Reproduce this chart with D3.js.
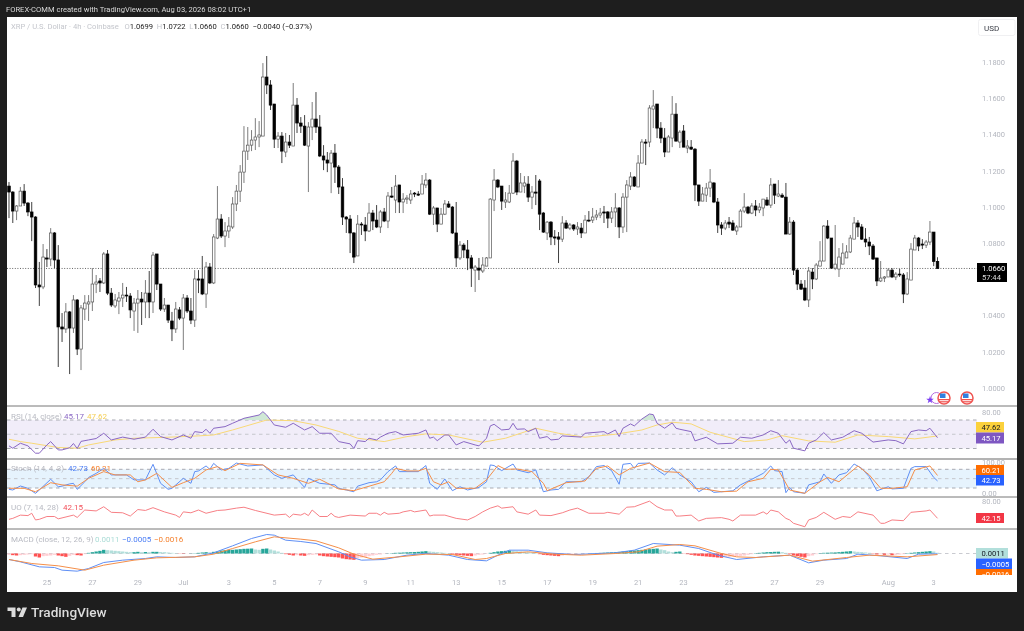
<!DOCTYPE html>
<html>
<head>
<meta charset="utf-8">
<script src="https://d3js.org/d3.v7.min.js"></script>
<style>
  html, body { margin: 0; padding: 0; background: #1e1e1e; }
  svg { display: block; filter: blur(0.3px); }
  text { font-family: Roboto, "Liberation Sans", sans-serif; }
</style>
</head>
<body>
<script>
// candles, 4h
var highs = [
1.1137,1.1087,1.1010,1.1110,1.1126,1.1027,1.1027,1.0949,1.0696,1.0795,
1.0767,1.0883,1.0861,1.0789,1.0414,1.0469,1.0425,1.0513,1.0491,1.0458,
1.0513,1.0513,1.0662,1.0624,1.0607,1.0751,1.0762,1.0552,1.0519,1.0530,
1.0580,1.0558,1.0524,1.0497,1.0541,1.0530,1.0596,1.0646,1.0751,1.0740,
1.0574,1.0497,1.0458,1.0420,1.0475,1.0447,1.0519,1.0513,1.0497,1.0651,
1.0651,1.0729,1.0696,1.0690,1.0850,1.1115,1.0960,1.0916,1.0944,1.1054,
1.1121,1.1231,1.1446,1.1441,1.1424,1.1490,1.1474,1.1794,1.1833,1.1700,
1.1568,1.1413,1.1413,1.1408,1.1397,1.1684,1.1601,1.1496,1.1507,1.1468,
1.1579,1.1634,1.1507,1.1341,1.1303,1.1314,1.1347,1.1231,1.1159,1.0949,
1.0955,1.0861,1.0955,1.0916,1.0944,1.1021,1.0983,1.1010,1.0983,1.0994,
1.1082,1.1110,1.1176,1.1121,1.1076,1.1065,1.1093,1.1082,1.1087,1.1176,
1.1187,1.1154,1.1005,1.0994,1.0994,1.1038,1.1032,1.1005,1.1027,1.0811,
1.0800,1.0817,1.0734,1.0679,1.0718,1.0723,1.0723,1.1049,1.1209,1.1154,
1.1115,1.1082,1.1121,1.1297,1.1259,1.1187,1.1170,1.1170,1.1115,1.1176,
1.1154,1.0972,1.0922,1.0922,1.0872,1.0861,1.0949,1.0927,1.0911,1.0905,
1.0916,1.0911,1.0955,1.0977,1.0994,1.0983,1.0994,1.1005,1.0977,1.0999,
1.1076,1.0999,1.1076,1.1148,1.1192,1.1170,1.1286,1.1374,1.1374,1.1562,
1.1645,1.1568,1.1468,1.1435,1.1397,1.1612,1.1573,1.1424,1.1452,1.1369,
1.1369,1.1325,1.1121,1.1110,1.1132,1.1209,1.1137,1.1049,1.0916,1.0927,
1.0944,1.0927,1.0900,1.0988,1.1076,1.1005,1.1021,1.1038,1.1021,1.1043,
1.1054,1.1159,1.1126,1.1148,1.1076,1.1132,1.0944,1.0927,1.0662,1.0596,
1.0596,1.0668,1.0662,1.0690,1.0811,1.0900,1.0927,1.0828,1.0900,1.0773,
1.0800,1.0789,1.0845,1.0944,1.0927,1.0905,1.0883,1.0834,1.0795,1.0718,
1.0701,1.0618,1.0662,1.0662,1.0640,1.0657,1.0635,1.0640,1.0800,1.0845,
1.0834,1.0822,1.0817,1.0922,1.0861,1.0722];

var opens = [
1.1115,1.1082,1.0977,1.1005,1.1087,1.1021,1.0972,1.0944,1.0569,1.0558,
1.0718,1.0712,1.0856,1.0707,1.0337,1.0326,1.0420,1.0331,1.0486,1.0215,
1.0436,1.0464,1.0475,1.0574,1.0591,1.0580,1.0740,1.0524,1.0453,1.0480,
1.0497,1.0513,1.0508,1.0425,1.0469,1.0491,1.0475,1.0524,1.0475,1.0740,
1.0574,1.0436,1.0458,1.0370,1.0326,1.0431,1.0386,1.0497,1.0425,1.0375,
1.0602,1.0602,1.0519,1.0668,1.0580,1.0828,1.0933,1.0839,1.0867,1.0889,
1.1016,1.1087,1.1192,1.1308,1.1341,1.1369,1.1386,1.1391,1.1717,1.1673,
1.1568,1.1374,1.1391,1.1303,1.1358,1.1336,1.1562,1.1463,1.1446,1.1336,
1.1441,1.1485,1.1441,1.1281,1.1259,1.1242,1.1297,1.1220,1.1110,1.0944,
1.0933,1.0856,1.0729,1.0905,1.0900,1.0867,1.0966,1.0927,1.0889,1.0972,
1.0922,1.1060,1.1038,1.1121,1.1027,1.1043,1.1038,1.1076,1.1071,1.1071,
1.1121,1.1148,1.0960,1.0994,1.0905,1.0960,1.1016,1.0999,1.0856,1.0718,
1.0789,1.0762,1.0718,1.0651,1.0662,1.0646,1.0673,1.0718,1.1038,1.1148,
1.1115,1.1027,1.1027,1.1076,1.1253,1.1082,1.1115,1.1126,1.1054,1.1082,
1.1143,1.0966,1.0856,1.0916,1.0834,1.0834,1.0822,1.0911,1.0883,1.0900,
1.0878,1.0883,1.0856,1.0927,1.0927,1.0944,1.0955,1.0972,1.0972,1.0938,
1.0972,1.0994,1.0889,1.1054,1.1115,1.1165,1.1110,1.1242,1.1358,1.1358,
1.1540,1.1568,1.1435,1.1380,1.1303,1.1380,1.1512,1.1358,1.1419,1.1325,
1.1330,1.1319,1.1121,1.1032,1.1065,1.1104,1.1132,1.1027,1.0900,1.0883,
1.0916,1.0911,1.0867,1.0889,1.0977,1.0999,1.0966,1.1005,1.0983,1.0994,
1.1038,1.1010,1.1126,1.1060,1.1065,1.1054,1.0850,1.0916,1.0651,1.0574,
1.0552,1.0486,1.0640,1.0602,1.0673,1.0701,1.0894,1.0828,1.0662,1.0657,
1.0684,1.0718,1.0751,1.0822,1.0911,1.0889,1.0822,1.0806,1.0784,1.0718,
1.0591,1.0607,1.0613,1.0651,1.0613,1.0629,1.0624,1.0519,1.0596,1.0762,
1.0828,1.0795,1.0789,1.0806,1.0861,1.0699];

var lows = [
1.0938,1.0911,1.0927,1.1005,1.1005,1.0949,1.0811,1.0552,1.0453,1.0546,
1.0668,1.0673,1.0662,1.0116,1.0254,1.0304,1.0077,1.0304,1.0182,1.0099,
1.0375,1.0370,1.0425,1.0524,1.0530,1.0574,1.0513,1.0447,1.0442,1.0408,
1.0447,1.0475,1.0386,1.0315,1.0304,1.0348,1.0386,1.0386,1.0414,1.0541,
1.0425,1.0420,1.0359,1.0259,1.0304,1.0375,1.0210,1.0414,1.0353,1.0337,
1.0524,1.0513,1.0442,1.0574,1.0574,1.0822,1.0828,1.0778,1.0828,1.0878,
1.0977,1.1027,1.1132,1.1259,1.1308,1.1314,1.1330,1.1391,1.1623,1.1535,
1.1325,1.1325,1.1242,1.1275,1.1325,1.1336,1.1408,1.1408,1.1336,1.1082,
1.1369,1.1408,1.1275,1.1203,1.1192,1.1076,1.1132,1.1071,1.0900,1.0856,
1.0745,1.0690,1.0729,1.0845,1.0811,1.0861,1.0872,1.0883,1.0856,1.0916,
1.0883,1.1049,1.0966,1.0966,1.0966,1.1016,1.1016,1.1054,1.1060,1.1071,
1.1104,1.0955,1.0900,1.0861,1.0905,1.0955,1.0994,1.0850,1.0668,1.0707,
1.0718,1.0651,1.0558,1.0530,1.0596,1.0635,1.0673,1.0718,1.0977,1.1104,
1.0983,1.0994,1.1021,1.1071,1.1065,1.1082,1.1076,1.1027,1.0988,1.1010,
1.0872,1.0856,1.0817,1.0789,1.0789,1.0690,1.0806,1.0878,1.0872,1.0867,
1.0845,1.0828,1.0856,1.0916,1.0911,1.0927,1.0938,1.0911,1.0883,1.0911,
1.0889,1.0828,1.0856,1.0861,1.1093,1.1110,1.1110,1.1242,1.1231,1.1330,
1.1435,1.1380,1.1352,1.1275,1.1303,1.1330,1.1363,1.1325,1.1330,1.1297,
1.1314,1.1032,1.1005,1.1032,1.1027,1.1054,1.1021,1.0856,1.0845,1.0872,
1.0883,1.0867,1.0845,1.0889,1.0966,1.0960,1.0960,1.0949,1.0966,1.0949,
1.1005,1.0994,1.1016,1.1054,1.1049,1.0850,1.0845,1.0624,1.0541,1.0541,
1.0480,1.0447,1.0546,1.0596,1.0673,1.0701,1.0822,1.0657,1.0651,1.0613,
1.0684,1.0718,1.0745,1.0822,1.0834,1.0817,1.0778,1.0734,1.0707,1.0563,
1.0585,1.0585,1.0613,1.0607,1.0596,1.0613,1.0469,1.0513,1.0596,1.0762,
1.0756,1.0767,1.0773,1.0789,1.0673,1.0660];

var closes = [
1.1082,1.0977,1.1005,1.1087,1.1021,1.0972,1.0944,1.0569,1.0558,1.0723,
1.0712,1.0856,1.0707,1.0337,1.0326,1.0420,1.0331,1.0486,1.0215,1.0442,
1.0469,1.0475,1.0574,1.0585,1.0580,1.0740,1.0524,1.0458,1.0486,1.0497,
1.0513,1.0508,1.0431,1.0469,1.0491,1.0475,1.0524,1.0475,1.0734,1.0574,
1.0436,1.0458,1.0375,1.0326,1.0436,1.0386,1.0497,1.0425,1.0375,1.0602,
1.0596,1.0519,1.0668,1.0580,1.0834,1.0933,1.0839,1.0867,1.0894,1.1016,
1.1087,1.1192,1.1308,1.1341,1.1369,1.1386,1.1397,1.1717,1.1673,1.1562,
1.1374,1.1391,1.1308,1.1358,1.1341,1.1562,1.1463,1.1446,1.1341,1.1441,
1.1485,1.1441,1.1281,1.1259,1.1242,1.1297,1.1220,1.1110,1.0944,1.0933,
1.0856,1.0723,1.0905,1.0900,1.0867,1.0966,1.0922,1.0889,1.0972,1.0922,
1.1060,1.1054,1.1115,1.1027,1.1043,1.1049,1.1071,1.1071,1.1065,1.1126,
1.1148,1.0960,1.0994,1.0905,1.0960,1.1016,1.0999,1.0856,1.0718,1.0789,
1.0762,1.0718,1.0662,1.0668,1.0651,1.0679,1.0718,1.1043,1.1148,1.1110,
1.1032,1.1038,1.1076,1.1253,1.1082,1.1132,1.1132,1.1054,1.1082,1.1076,
1.0960,1.0861,1.0916,1.0834,1.0828,1.0822,1.0911,1.0883,1.0900,1.0878,
1.0889,1.0856,1.0927,1.0922,1.0944,1.0955,1.0966,1.0966,1.0938,1.0972,
1.0994,1.0889,1.1054,1.1121,1.1165,1.1115,1.1242,1.1358,1.1352,1.1546,
1.1557,1.1435,1.1380,1.1303,1.1386,1.1512,1.1363,1.1413,1.1330,1.1336,
1.1319,1.1121,1.1032,1.1071,1.1104,1.1137,1.1027,1.0900,1.0883,1.0911,
1.0905,1.0872,1.0889,1.0977,1.0999,1.0966,1.1005,1.0983,1.0999,1.1043,
1.1010,1.1121,1.1065,1.1071,1.1054,1.0850,1.0916,1.0651,1.0574,1.0546,
1.0486,1.0646,1.0602,1.0679,1.0701,1.0894,1.0828,1.0662,1.0684,1.0723,
1.0745,1.0751,1.0828,1.0911,1.0889,1.0822,1.0806,1.0784,1.0712,1.0591,
1.0607,1.0613,1.0651,1.0613,1.0629,1.0624,1.0519,1.0602,1.0767,1.0828,
1.0784,1.0789,1.0806,1.0861,1.0699,1.0660];

var priceTicks = [1.00, 1.02, 1.04, 1.08, 1.10, 1.12, 1.14, 1.16, 1.18];
var lastPrice = 1.0660;

// date labels on the bottom axis, by candle number
var dayIndex = [10, 22, 34, 46, 58, 70, 82, 94, 106, 118, 130, 142, 154, 166, 178, 190, 202, 214, 232, 244];
var dayLabels = ["25", "27", "29", "Jul", "3", "5", "7", "9", "11", "13", "15", "17", "19", "21", "23", "25", "27", "29", "Aug", "3"];

// indicators: [candle number, value]
var rsi = [[0,33.7],[1,30.4],[3,37.4],[5,33.7],[7,23.4],[8,23.4],[10,35],[11,39.7],[13,28],[14,28],[16,31],[17,37],[18,30],[19,40],[21,42],[23,44],[25,51.4],[27,42],[30,46],[33,43],[36,46],[38,57],[40,46.7],[43,42],[46,49],[48,44.4],[49,53.7],[51,52.3],[52,57],[53,51.4],[54,58.4],[57,60.7],[59,65.4],[62,72.4],[66,77],[67,81.7],[68,77],[70,63],[73,59.8],[75,65.4],[78,56],[80,60.7],[82,51.4],[85,51.4],[87,39.7],
[90,36.5],[91,30],[92,41],[94,39.7],[95,44.4],[97,42],[98,46],[100,51.4],[102,53.7],[104,49],[108,51.4],[110,56],[111,44.4],[112,46],[113,41],[115,49],[116,49],[118,35],[120,39.7],[123,35],[124,33.7],[126,44.4],[127,61.7],[128,64],[130,56],[132,57],[133,65.4],[134,57],[136,57.5],[137,53.7],[139,58.4],[140,44.4],[142,46.7],[143,42],[145,43],[146,47.7],[151,46],[152,51.4],[157,53.7],[158,50.4],[160,56],[161,46.7],[162,58.4],[164,64.5],[165,61.7],[167,71.4],[169,78.4],[170,77.5],[171,65.4],[173,58.4],[175,66],[176,58.4],[177,57],
[180,53.7],[181,40.7],[184,45.8],[187,36.5],[191,37.4],[193,45.8],[196,44.4],[199,49],[201,55],[203,51.4],[205,37.4],[206,42],[207,30.4],[210,26.7],[211,37.4],[213,42],[215,52.3],[217,42],[220,45.8],[223,55],[225,51.4],[228,39],[232,42],[234,41],[236,36.5],[238,53.7],[240,56],[242,55],[243,58.4],[245,45.17]];

var rsiMa = [[0,43],[3,39.7],[6,37.4],[13,31.4],[18,30.4],[21,35],[28,42],[33,44.4],[42,45.8],[50,47.7],[54,49],[59,56],[68,70],[75,69],[81,63],[87,54],[92,44.4],[99,39.7],[105,46.7],[110,50.5],[116,49],[125,38.8],[131,44.4],[139,58.4],[145,51.4],[152,45.8],[160,50],[167,56],[171,63],[175,66.8],[177,66],[180,64.5],[185,52.8],[194,39.7],[200,42],[204,48],[211,40.7],[218,38.8],[224,49],[232,46.7],[239,43.5],[245,47.62]];

var stochK = [[0,15.7],[1,13.6],[3,26.4],[5,19],[7,2.8],[8,13.6],[11,48],[13,24],[14,26],[16,33],[17,35],[18,15.7],[20,40],[21,54],[23,67],[25,83],[27,62],[31,62],[33,46],[36,46],[38,96],[40,35],[42,15.7],[43,19],[46,51],[48,35],[49,72.5],[50,74.7],[52,90.7],[53,80],[54,99],[56,78],[58,83],[60,100],[63,90.7],[67,94],[70,62],[72,51],[75,62],[78,22],[79,51],[82,35],[86,30],[87,19],
[89,13.6],[91,8],[92,26],[95,37],[97,40],[98,46],[100,72.5],[102,90.7],[103,72.5],[108,72.5],[110,92],[111,35],[113,15.7],[115,49],[117,11.4],[119,24],[121,13.6],[124,22],[126,40],[127,94],[128,92],[130,75.7],[133,97],[134,78],[137,69],[139,78],[141,8],[143,13.6],[145,15.7],[147,40],[151,40],[153,56],[155,88.6],[157,92],[159,75.7],[161,32],[162,96],[164,99],[165,83],[166,99],[169,100],[171,78],[173,62],[175,85],[177,62],
[180,40],[182,8],[184,22],[186,6],[191,11],[193,30],[196,48],[199,67],[201,90.7],[202,75.7],[204,72.5],[205,5],[206,22],[207,8],[210,3],[211,30],[214,40],[215,65],[217,35],[219,62],[221,69],[223,97],[225,83],[227,56],[229,11],[232,24],[233,17],[236,19],[238,83],[239,88.6],[242,88.6],[244,54],[245,42.73]];

var stochD = [[0,19],[4,19],[7,8],[11,37],[14,30],[18,26],[21,51],[25,72.5],[28,62],[32,62],[34,40],[36,46],[39,67],[43,22],[46,37],[49,51],[52,78],[55,88.6],[57,75.7],[61,99],[67,94],[71,62],[75,51],[79,35],[82,48],[87,17],[91,11.4],[99,40],[101,67],[102,83],[105,74.7],[108,74.7],[110,83],[112,40],[114,30],[116,40],[118,19],[123,19],[126,46],[129,92],[131,80],[134,81],[138,72.5],[141,35],[142,11.4],[147,37],[152,42.5],[155,83],[158,90.7],[161,62],[164,83],[169,100],[173,72.5],[177,70],[181,19],[184,15.7],[188,8],[192,10],[195,40],[199,51],[201,80],[203,78],[206,13.6],[210,3],[214,40],[216,54],[219,40],[224,90.7],[227,62],[230,19],[233,19],[237,24],[239,78],[243,90.7],[245,60.21]];

var uo = [[0,40],[1,42],[3,49],[5,48],[6,53],[7,38.6],[8,40],[10,46],[12,46],[13,41],[17,49],[18,44],[20,60],[23,58],[25,67],[27,55],[30,54],[32,47],[34,61],[36,59],[38,65],[41,56],[44,49],[45,44],[46,56],[48,54],[50,60],[52,53],[55,59],[57,60],[60,64],[62,66],[65,59],[70,49],[73,51],[74,44],[75,51],[77,49],[78,53],[79,48],[80,60],[82,46],[84,46],[85,53],[86,46],[87,44],
[90,49],[94,47],[95,53],[97,53],[98,49],[99,55],[100,51],[103,53],[104,56],[106,59],[107,56],[110,60],[111,47],[112,49],[115,49],[118,42],[121,38.6],[123,46],[125,56],[127,64],[129,69],[130,64],[133,67],[134,56],[137,51],[139,60],[140,49],[143,48],[146,54],[148,60],[150,64],[153,53],[157,53],[158,55],[161,51],[163,66],[165,67],[169,79],[171,67],[173,60],[175,60],[176,47],[177,47],
[180,49],[182,36.4],[184,42],[188,43.6],[190,40],[191,36.4],[193,49],[197,49],[199,56],[200,51],[201,60],[203,56],[205,42],[206,38.6],[207,31.4],[210,24],[211,38.6],[213,44],[215,55],[218,40],[220,46],[222,44],[224,56],[228,49],[230,31.4],[231,31.4],[233,38.6],[236,37],[238,55],[242,58],[243,60],[245,42.15]];

var macd = [[0,-0.009],[3,-0.0125],[8,-0.02],[12,-0.021],[14,-0.025],[18,-0.0265],[21,-0.0225],[25,-0.0135],[30,-0.01],[36,-0.0075],[39,-0.005],[44,-0.006],[49,-0.005],[54,0.001],[59,0.0115],[64,0.0225],[68,0.0285],[70,0.0275],[73,0.02],[77,0.018],[81,0.015],[87,0.0025],[90,-0.005],[93,-0.01],[99,-0.009],[105,-0.0025],[110,0],[116,-0.0025],[121,-0.009],[126,-0.011],[129,-0.0025],[132,0.005],[137,0.005],[142,0.001],[149,-0.0015],[160,0.001],[165,0.005],[170,0.015],[177,0.0125],[182,0.0075],[187,-0.0025],[192,-0.009],[199,-0.005],[206,-0.0025],[211,-0.014],[215,-0.01],[221,-0.0075],[224,-0.001],[230,-0.0035],[237,-0.0075],[240,-0.001],[245,-0.0005]];

var signal = [[0,-0.009],[6,-0.015],[13,-0.0185],[20,-0.025],[25,-0.0175],[33,-0.01],[39,-0.0065],[49,-0.005],[54,-0.001],[59,0.0075],[65,0.0175],[70,0.025],[77,0.0215],[81,0.019],[87,0.0085],[91,-0.001],[96,-0.0085],[103,-0.005],[110,-0.001],[117,-0.0015],[123,-0.009],[126,-0.0075],[131,0],[137,0.0025],[144,-0.001],[151,-0.0025],[160,0],[166,0.0025],[171,0.011],[177,0.0135],[181,0.0115],[188,0],[192,-0.005],[197,-0.006],[206,-0.0025],[212,-0.0115],[221,-0.006],[227,-0.0025],[237,-0.005],[245,-0.0016]];

var hist = [
-0.002,-0.0025,-0.003,-0.0025,-0.002,-0.0015,-0.001,-0.0045,-0.006,-0.004,
-0.0035,-0.003,-0.002,-0.003,-0.004,-0.005,-0.0035,-0.002,-0.0025,-0.003,
-0.001,0.001,0.002,0.003,0.004,0.0055,0.005,0.0045,0.004,0.0035,
0.003,0.0025,0.002,0.002,0.0025,0.002,0.0022,0.002,0.0025,0.0025,
0.0022,0.002,0.0015,0.001,0.0005,-0.0003,-0.0005,-0.0002,0.0002,0.0004,
0.001,0.0015,0.002,0.0018,0.0025,0.003,0.0045,0.005,0.0055,0.0055,
0.006,0.0065,0.007,0.0072,0.0075,0.006,0.0055,0.007,0.0075,0.006,
0.0045,0.003,0.001,-0.001,-0.002,-0.003,-0.0025,-0.003,-0.0035,-0.0025,
-0.002,-0.0015,-0.003,-0.004,-0.0045,-0.005,-0.0055,-0.006,-0.0075,-0.0085,
-0.009,-0.0095,-0.007,-0.006,-0.005,-0.004,-0.003,-0.002,-0.0015,-0.0005,
0.0002,0.0005,0.001,0.0012,0.0015,0.0018,0.002,0.0022,0.0025,0.003,
0.0035,0.003,0.0025,0.002,0.0015,0.001,0.0005,-0.0015,-0.002,-0.0025,
-0.003,-0.0035,-0.004,-0.003,-0.002,-0.0015,-0.0005,0.001,0.002,0.003,
0.0035,0.004,0.0045,0.004,0.0035,0.003,0.0025,0.002,0.0015,0.0005,
-0.001,-0.002,-0.0025,-0.003,-0.0035,-0.004,-0.003,-0.002,-0.001,-0.0005,
-0.0003,-0.0002,-0.0001,0.0001,0.0005,0.0008,0.001,0.0012,0.0015,0.0018,
0.002,0.0025,0.003,0.0035,0.004,0.0045,0.005,0.0055,0.006,0.0065,
0.007,0.0075,0.006,0.005,0.003,0.002,0.0025,0.003,-0.0003,-0.001,
-0.002,-0.003,-0.0035,-0.004,-0.0045,-0.005,-0.0055,-0.006,-0.0065,-0.0055,
-0.005,-0.0045,-0.004,-0.0035,-0.003,-0.002,-0.001,0.0005,0.001,0.0015,
0.002,0.0022,0.0025,0.0027,0.002,0.001,-0.001,-0.003,-0.004,-0.005,
-0.006,-0.004,-0.003,-0.001,0.0005,0.001,0.0012,0.0014,0.0016,0.002,
0.0025,0.003,0.0035,0.003,0.0025,0.002,0.0015,0.001,-0.0005,-0.0015,
-0.001,-0.002,-0.0015,-0.0025,-0.002,-0.0015,-0.001,0.0005,0.001,0.0015,
0.002,0.0025,0.003,0.0035,0.003,0.0011];

var w = 1024;
var h = 631;
var plotLeft = 7;
var plotRight = 977;
var chartRight = 1017;

var svg = d3.select("body").append("svg").attr("width", w).attr("height", h);

// page and white chart sheet
svg.append("rect").attr("width", w).attr("height", h).attr("fill", "#1e1e1e");
svg.append("rect").attr("x", plotLeft).attr("y", 17).attr("width", chartRight - plotLeft).attr("height", 575).attr("fill", "#fff");

var xScale = d3.scaleBand()
    .domain(d3.range(closes.length))
    .range([7.1, 939.4]);
var bw = xScale.bandwidth();
function cx(i) { return xScale(i) + bw / 2; }

var yPrice = d3.scaleLinear().domain([1.0, 1.18]).range([388, 62]);
var yRsi = d3.scaleLinear().domain([30, 70]).range([448.5, 420]);
var yStoch = d3.scaleLinear().domain([20, 80]).range([488, 469.3]);
var yUo = d3.scaleLinear().domain([42.15, 80]).range([518.3, 500.7]);
var yMacd = d3.scaleLinear().domain([0, 0.03]).range([553.5, 533.5]);

function hLine(y, color, dash, width) {
    svg.append("line").attr("x1", plotLeft).attr("x2", plotRight).attr("y1", y).attr("y2", y)
        .attr("stroke", color).attr("stroke-width", width || 1).attr("stroke-dasharray", dash);
}

// bands behind the indicator lines
svg.append("rect").attr("x", plotLeft).attr("width", plotRight - plotLeft)
    .attr("y", yRsi(70)).attr("height", yRsi(30) - yRsi(70)).attr("fill", "#f1edf9");
svg.append("rect").attr("x", plotLeft).attr("width", plotRight - plotLeft)
    .attr("y", yStoch(80)).attr("height", yStoch(20) - yStoch(80)).attr("fill", "#e6f3fd");

[70, 50, 30].forEach(function (v) { hLine(yRsi(v), v === 50 ? "#c5c6cc" : "#a9abb2", "3.5,3.5"); });
[80, 50, 20].forEach(function (v) { hLine(yStoch(v), v === 50 ? "#c5c6cc" : "#a9abb2", "3.5,3.5"); });
hLine(yMacd(0), "#c9cad0", "3.5,3.5");

// last price line
hLine(yPrice(lastPrice), "#666", "1,1.6");

// candles
var candles = svg.append("g").selectAll("g")
    .data(closes).enter().append("g");

candles.append("line")
    .attr("x1", function (d, i) { return cx(i); })
    .attr("x2", function (d, i) { return cx(i); })
    .attr("y1", function (d, i) { return yPrice(highs[i]); })
    .attr("y2", function (d, i) { return yPrice(lows[i]); })
    .attr("stroke", function (d, i) { return d >= opens[i] ? "#6e6e6e" : "#2b2b2b"; })
    .attr("stroke-width", 0.9);

candles.append("rect")
    .attr("x", function (d, i) { return cx(i) - 1.3; })
    .attr("width", 2.6)
    .attr("y", function (d, i) { return yPrice(Math.max(d, opens[i])); })
    .attr("height", function (d, i) { return Math.max(0.6, Math.abs(yPrice(d) - yPrice(opens[i]))); })
    .attr("fill", function (d, i) { return d >= opens[i] ? "#fff" : "#000"; })
    .attr("stroke", function (d, i) { return d >= opens[i] ? "#555" : "#000"; })
    .attr("stroke-width", 0.7);

// MACD histogram
svg.append("g").selectAll("rect")
    .data(hist).enter().append("rect")
    .attr("x", function (d, i) { return xScale(i) + 0.2; })
    .attr("width", bw - 0.4)
    .attr("y", function (d) { return Math.min(yMacd(0), yMacd(d)); })
    .attr("height", function (d) { return Math.abs(yMacd(d) - yMacd(0)); })
    .attr("fill", function (d, i) {
        var rising = i === 0 || d >= hist[i - 1];
        if (d >= 0) return rising ? "#26a69a" : "#b2dfdb";
        return rising ? "#ffcdd2" : "#ff5252";
    });

function drawLine(data, yScale, color, width) {
    var line = d3.line()
        .x(function (d) { return cx(d[0]); })
        .y(function (d) { return yScale(d[1]); });
    svg.append("path").datum(data)
        .attr("d", line)
        .attr("fill", "none")
        .attr("stroke", color)
        .attr("stroke-width", width)
        .attr("stroke-linejoin", "round");
}

// green fill where RSI runs above the band
svg.append("clipPath").attr("id", "overbought").append("rect")
    .attr("x", plotLeft).attr("y", 406).attr("width", plotRight - plotLeft).attr("height", yRsi(70) - 406);
svg.append("path").datum(rsi)
    .attr("clip-path", "url(#overbought)")
    .attr("fill", "#cfe8d6")
    .attr("d", d3.area()
        .x(function (d) { return cx(d[0]); })
        .y0(yRsi(70))
        .y1(function (d) { return yRsi(d[1]); }));

drawLine(rsiMa, yRsi, "#f9d976", 1);
drawLine(rsi, yRsi, "#8a68c4", 1);
drawLine(stochK, yStoch, "#5f8ff5", 1);
drawLine(stochD, yStoch, "#f58f4a", 1);
drawLine(uo, yUo, "#f77f85", 1);
drawLine(macd, yMacd, "#5f8ff5", 1);
drawLine(signal, yMacd, "#f58f4a", 1);

// pane separators
[406, 459, 497, 529].forEach(function (y, i) {
    svg.append("line").attr("x1", plotLeft).attr("x2", chartRight).attr("y1", y).attr("y2", y)
        .attr("stroke", i === 1 ? "#9a9a9a" : "#777").attr("stroke-width", i === 1 ? 1.4 : 1);
});

// price axis
var priceAxis = d3.axisRight(yPrice)
    .tickValues(priceTicks)
    .tickSize(0)
    .tickPadding(5)
    .tickFormat(d3.format(".4f"));
var pa = svg.append("g").attr("transform", "translate(" + plotRight + ",0)").call(priceAxis);
pa.select(".domain").remove();
pa.selectAll("text").attr("fill", "#b4b7bf").style("font-size", "7.5px");

// time axis sits on a white strip over the MACD pane
svg.append("rect").attr("x", plotLeft).attr("y", 575).attr("width", chartRight - plotLeft).attr("height", 17).attr("fill", "#fff");
var timeAxis = d3.axisBottom(xScale)
    .tickValues(dayIndex)
    .tickSize(0)
    .tickPadding(5)
    .tickFormat(function (d, i) { return dayLabels[i]; });
var ta = svg.append("g").attr("transform", "translate(0,575)").call(timeAxis);
ta.select(".domain").remove();
ta.selectAll("text").attr("fill", "#b4b7bf").style("font-size", "7.5px");

function text(x, y, str, color, size, weight, anchor) {
    return svg.append("text").attr("x", x).attr("y", y).text(str)
        .attr("fill", color).style("font-size", (size || 8) + "px")
        .style("font-weight", weight || 400).attr("text-anchor", anchor || "start");
}

// scale labels of the lower panes
text(982, 415, "80.00", "#b4b7bf", 7.5);
text(982, 464.5, "100.00", "#b4b7bf", 7.5);
text(982, 496, "0.00", "#b4b7bf", 7.5);
text(982, 503.5, "80.00", "#b4b7bf", 7.5);

// value tags on the right
function tag(y0, y1, x1, fill, color, str, weight) {
    svg.append("rect").attr("x", plotRight - 1).attr("y", y0).attr("width", x1 - plotRight + 1).attr("height", y1 - y0).attr("fill", fill);
    text(plotRight + 4.5, (y0 + y1) / 2 + 2.8, str, color, 7.6, weight);
}
tag(422, 432.5, 1004, "#fbd13c", "#131722", "47.62");
tag(432.5, 443.5, 1004, "#7e57c2", "#fff", "45.17");
tag(465, 475, 1004, "#ff6d00", "#fff", "60.21");
tag(475, 485.5, 1004, "#2962ff", "#fff", "42.73");
tag(513, 523, 1004, "#f23645", "#fff", "42.15");
tag(548, 558.5, 1008, "#b2dfdb", "#131722", "0.0011");
tag(558.5, 569, 1012, "#2962ff", "#fff", "\u22120.0005");
svg.append("rect").attr("x", plotRight - 1).attr("y", 569).attr("width", 36).attr("height", 6).attr("fill", "#ff6d00");
svg.append("clipPath").attr("id", "lastTag").append("rect").attr("x", plotRight).attr("y", 569).attr("width", 40).attr("height", 6);
text(plotRight + 4.5, 577, "\u22120.0016", "#fff", 7.6).attr("clip-path", "url(#lastTag)");

// last price tag
svg.append("rect").attr("x", plotRight).attr("y", 263).attr("width", 30).attr("height", 19).attr("fill", "#000");
text(plotRight + 5, 271, "1.0660", "#fff", 7.6);
text(plotRight + 5, 280, "57:44", "#ddd", 7.6);

// USD box
svg.append("rect").attr("x", 978.5).attr("y", 19.5).attr("width", 36.5).attr("height", 16).attr("rx", 2)
    .attr("fill", "#fff").attr("stroke", "#f0f0f2");
text(984, 31, "USD", "#3a3d46", 8);

// top strip
text(6, 12, "FOREX-COMM created with TradingView.com, Aug 03, 2026 08:02 UTC+1", "#d8d8d8", 7.6);

// main legend
var legend = svg.append("text").attr("x", 11).attr("y", 29).style("font-size", "7.6px");
[["XRP / U.S. Dollar \u00b7 4h \u00b7 Coinbase   ", "#c4c6cc"], ["O", "#c4c6cc"], ["1.0699  ", "#222"],
 ["H", "#c4c6cc"], ["1.0722  ", "#222"], ["L", "#c4c6cc"], ["1.0660  ", "#222"], ["C", "#c4c6cc"], ["1.0660  ", "#222"],
 ["\u22120.0040 (\u22120.37%)", "#222"]].forEach(function (p) {
    legend.append("tspan").attr("fill", p[1]).style("white-space", "pre").text(p[0]);
});

// pane legends
text(11, 419, "RSI (14, close)", "#b8bac2");
text(64, 419, "45.17", "#8a68c4");
text(87, 419, "47.62", "#f5cf55");
text(11, 471, "Stoch (14, 4, 3)", "#b8bac2");
text(68, 471, "42.73", "#4a7df5");
text(91, 471, "60.21", "#f5812e");
text(11, 510, "UO (7, 14, 28)", "#b8bac2");
text(63, 510, "42.15", "#f2505a");
text(11, 542, "MACD (close, 12, 26, 9)", "#b8bac2");
text(95, 542, "0.0011", "#aadcd6");
text(122, 542, "\u22120.0005", "#4a7df5");
text(154, 542, "\u22120.0016", "#f5812e");

// event markers above the RSI pane
svg.append("circle").attr("cx", 936.5).attr("cy", 398).attr("r", 5.5).attr("fill", "#fff").attr("stroke", "#b56be0").attr("stroke-width", 1);
svg.append("path").attr("d", d3.symbol(d3.symbolStar, 18)()).attr("transform", "translate(930,400)").attr("fill", "#7b3ff2");
function flag(x) {
    svg.append("circle").attr("cx", x).attr("cy", 398).attr("r", 6).attr("fill", "#fff").attr("stroke", "#ef5350").attr("stroke-width", 1.5);
    svg.append("rect").attr("x", x - 5).attr("y", 399).attr("width", 10).attr("height", 1.2).attr("fill", "#ef5350");
    svg.append("rect").attr("x", x - 4).attr("y", 401.2).attr("width", 8).attr("height", 1.2).attr("fill", "#ef5350");
    svg.append("rect").attr("x", x - 4).attr("y", 393.5).attr("width", 5.5).attr("height", 4.5).attr("fill", "#2f7fe0");
}
flag(944);
flag(967);

// logo
var logo = svg.append("g").attr("fill", "#dcdcdc");
logo.append("path").attr("d", "M7.5 607.5H15.5V617H11.5V611H7.5Z");
logo.append("circle").attr("cx", 18.8).attr("cy", 609.5).attr("r", 2);
logo.append("path").attr("d", "M18.5 617L22.5 607.5H27L23 617Z");
text(31, 617, "TradingView", "#dcdcdc", 13.6, 500);
</script>
</body>
</html>
